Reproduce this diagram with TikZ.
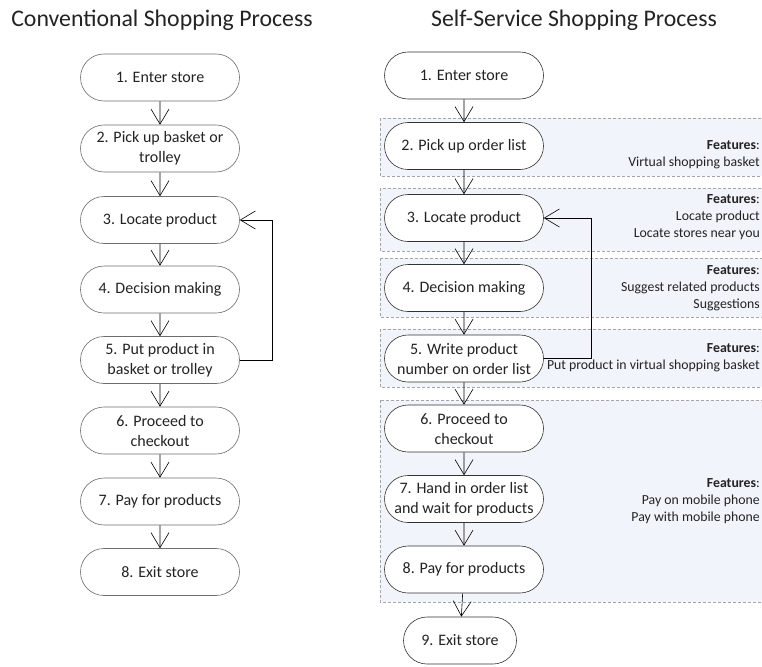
\documentclass[tikz,border=0pt]{standalone}
\usepackage{fontspec}
\setmainfont{Carlito}
\usepackage{xcolor}
\usepackage{tikz}
\usetikzlibrary{shapes.misc,arrows.meta}
\definecolor{boxfill}{RGB}{241, 244, 250}
\definecolor{boxline}{RGB}{165, 165, 165}
\definecolor{txtdark}{RGB}{35, 35, 35}

\tikzset{
  procstep/.style={rounded rectangle, draw=gray!85!black, fill=white, line width=0.6pt,
    minimum width=161pt, minimum height=47pt, align=center, inner sep=1pt,
    text=txtdark, font=\fontsize{16}{20}\selectfont},
  selfstep/.style={procstep, draw=black!80},
  flow/.style={-{Straight Barb[length=15pt,width=18pt]}, line width=0.6pt},
  featbox/.style={draw=boxline, dash pattern=on 3pt off 2pt, fill=boxfill, line width=0.5pt},
  featlist/.style={anchor=east, align=right, inner sep=0pt, text=txtdark,
    font=\fontsize{13.8}{17}\selectfont},
  heading/.style={text=txtdark, font=\fontsize{23.8}{28}\selectfont}
}

\begin{document}
\begin{tikzpicture}[x=1pt, y=-1pt]
\useasboundingbox (0,0) rectangle (762,666);

% titles
\node[heading] (tconv) at (162,20) {Conventional Shopping Process};
\node[heading] (tself) at (574,20) {Self-Service Shopping Process};

% feature boxes behind the self-service steps
\draw[featbox] (380,118) rectangle (775,176);
\draw[featbox] (380,188) rectangle (775,251);
\draw[featbox] (380,258) rectangle (775,317);
\draw[featbox] (380,329) rectangle (775,387);
\draw[featbox] (380,400) rectangle (775,602);

% conventional process
\node[procstep] (c1) at (160,77.5) {1. Enter store};
\node[procstep] (c2) at (160,148.5) {2. Pick up basket or\\trolley};
\node[procstep] (c3) at (160,220) {3. Locate product};
\node[procstep] (c4) at (160,289.5) {4. Decision making};
\node[procstep] (c5) at (160,360) {5. Put product in\\basket or trolley};
\node[procstep] (c6) at (160,430.5) {6. Proceed to\\checkout};
\node[procstep] (c7) at (160,501.5) {7. Pay for products};
\node[procstep] (c8) at (160,572) {8. Exit store};

\foreach \a/\b in {c1/c2,c2/c3,c3/c4,c4/c5,c5/c6,c6/c7,c7/c8}
  \draw[flow] (\a) -- (\b);
\draw[flow] (c5.east) -- ++(32,0) |- (c3.east);

% self-service process
\node[selfstep] (s1) at (464,75.5) {1. Enter store};
\node[selfstep] (s2) at (464,146) {2. Pick up order list};
\node[selfstep] (s3) at (464,218) {3. Locate product};
\node[selfstep] (s4) at (464,288) {4. Decision making};
\node[selfstep] (s5) at (464,358.5) {5. Write product\\number on order list};
\node[selfstep] (s6) at (464,428.5) {6. Proceed to\\checkout};
\node[selfstep] (s7) at (464,499) {7. Hand in order list\\and wait for products};
\node[selfstep] (s8) at (464,569.5) {8. Pay for products};
\node[selfstep, minimum width=115pt] (s9) at (460,640.5) {9. Exit store};

\foreach \a/\b in {s1/s2,s2/s3,s3/s4,s4/s5,s5/s6,s6/s7,s7/s8,s8/s9}
  \draw[flow] (\a) -- (\b);
\draw[flow] (s5.east) -- ++(47,0) |- (s3.east);

% features
\node[featlist] (f2) at (760,155) {\textbf{Features}:\\Virtual shopping basket};
\node[featlist] (f3) at (760,217) {\textbf{Features}:\\Locate product\\Locate stores near you};
\node[featlist] (f4) at (760,288) {\textbf{Features}:\\Suggest related products\\Suggestions};
\node[featlist] (f5) at (760,358) {\textbf{Features}:\\Put product in virtual shopping basket};
\node[featlist] (f6) at (760,501) {\textbf{Features}:\\Pay on mobile phone\\Pay with mobile phone};
\end{tikzpicture}
\end{document}
